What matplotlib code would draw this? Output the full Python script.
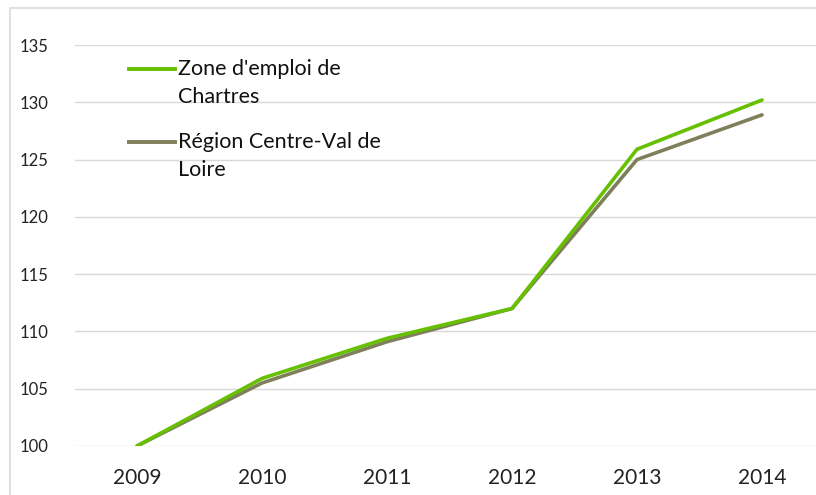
import matplotlib
matplotlib.use('Agg')
import matplotlib.pyplot as plt
from matplotlib.lines import Line2D
from matplotlib.patches import Rectangle

years = ['2009', '2010', '2011', '2012', '2013', '2014']
chartres = [100, 105.9, 109.4, 112.0, 125.9, 130.2]
region = [100, 105.5, 109.1, 112.0, 125.0, 128.9]
labels = ["Zone d'emploi de\nChartres", "Région Centre-Val de\nLoire"]
colors = ['#66c000', '#7f7f5c']

plt.rcParams['font.family'] = ['Lato', 'DejaVu Sans']

W, H = 816, 495
fig = plt.figure(figsize=(W / 100, H / 100), dpi=100)

# light grey frame of the chart area (runs past the right/bottom edge)
fig.add_artist(Rectangle((10 / W, -0.1), 1.2, (H - 8) / H + 0.1, transform=fig.transFigure,
                         fill=False, edgecolor='#d9d9d9', linewidth=1.2))

ax = fig.add_axes([74.5 / W, 49 / H, 750 / W, 401 / H])
x = range(len(years))
# plot the region first so the green line sits on top
ax.plot(x, region, color=colors[1], linewidth=2.6, solid_capstyle='round', zorder=3)
ax.plot(x, chartres, color=colors[0], linewidth=2.6, solid_capstyle='round', zorder=4)

ax.set_xlim(-0.5, len(years) - 0.5)
ax.set_ylim(100, 135)
ax.set_yticks(range(100, 136, 5))
ax.set_xticks(list(x))
ax.set_xticklabels(years)
ax.grid(axis='y', color='#d9d9d9', linewidth=1)
ax.set_axisbelow(True)
for s in ax.spines.values():
    s.set_visible(False)
ax.tick_params(length=0, colors='#222222')
ax.tick_params(axis='y', pad=19, labelsize=12)
ax.tick_params(axis='x', pad=16, labelsize=15)

# legend drawn by hand: handle aligned with first text line
for i, (lab, c) in enumerate(zip(labels, colors)):
    yy = (H - 69 - i * 73) / H
    fig.add_artist(Line2D([129 / W, 175 / W], [yy, yy], transform=fig.transFigure,
                          color=c, linewidth=2.8))
    fig.text(178 / W, yy + 10 / H, lab, fontsize=15.5, va='top', ha='left',
             color='#111111', linespacing=1.52)

fig.savefig('out.png', dpi=100)
